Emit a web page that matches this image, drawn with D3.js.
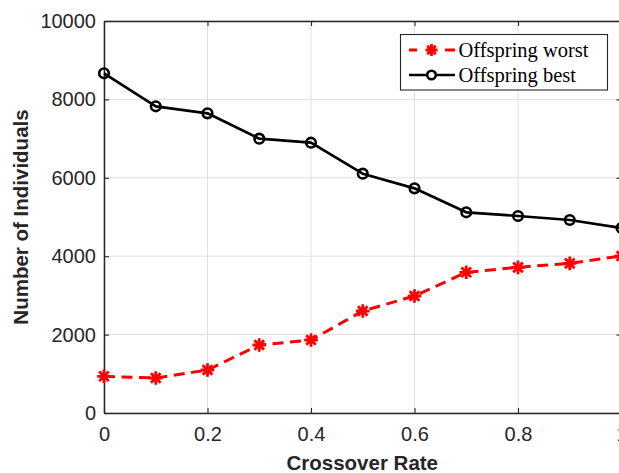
<!DOCTYPE html>
<html>
<head>
<meta charset="utf-8">
<script src="https://cdn.jsdelivr.net/npm/d3@7/dist/d3.min.js"></script>
<style>
  html, body { margin: 0; padding: 0; background: #fff; overflow: hidden; }
  svg { display: block; }
</style>
</head>
<body>
<svg id="chart" width="619" height="473"></svg>
<script>
// Crossover rate sweep
const crossoverRates = [0, 0.1, 0.2, 0.3, 0.4, 0.5, 0.6, 0.7, 0.8, 0.9, 1.0];
const offspringWorst = [936, 893, 1097, 1735, 1862, 2602, 2985, 3589, 3716, 3818, 4005];
const offspringBest  = [8666, 7824, 7645, 6998, 6895, 6105, 5731, 5120, 5026, 4923, 4719];
const xTickValues = [0, 0.2, 0.4, 0.6, 0.8, 1];
const yTickValues = [0, 2000, 4000, 6000, 8000, 10000];
const seriesNames = ["Offspring worst", "Offspring best"];

const svg = d3.select("#chart");
const plot = { left: 104, right: 621.5, top: 21, bottom: 413 };

const x = d3.scaleLinear().domain([0, 1]).range([plot.left, plot.right]);
const y = d3.scaleLinear().domain([0, 10000]).range([plot.bottom, plot.top]);

const axisColor = "#262626";
const gridColor = "#dfdfdf";
const tickFont = "'Liberation Sans', Arial, Helvetica, sans-serif";

// grid
const grid = svg.append("g");
grid.selectAll("line.gx").data(xTickValues).join("line")
  .attr("x1", d => x(d)).attr("x2", d => x(d))
  .attr("y1", plot.top).attr("y2", plot.bottom)
  .attr("stroke", gridColor).attr("stroke-width", 1);
grid.selectAll("line.gy").data(yTickValues).join("line")
  .attr("x1", plot.left).attr("x2", plot.right)
  .attr("y1", d => y(d)).attr("y2", d => y(d))
  .attr("stroke", gridColor).attr("stroke-width", 1);

// axes (ticks point inward)
const tickLen = 5;
const xAxisB = d3.axisBottom(x).tickValues(xTickValues).tickSizeInner(-tickLen).tickSizeOuter(0)
  .tickPadding(14).tickFormat(d => d3.format("~g")(d));
const xAxisT = d3.axisTop(x).tickValues(xTickValues).tickSizeInner(-tickLen).tickSizeOuter(0).tickFormat("");
const yAxisL = d3.axisLeft(y).tickValues(yTickValues).tickSizeInner(-tickLen).tickSizeOuter(0)
  .tickPadding(8).tickFormat(d3.format("d"));
const yAxisR = d3.axisRight(y).tickValues(yTickValues).tickSizeInner(-tickLen).tickSizeOuter(0).tickFormat("");

function styleAxis(g) {
  g.select(".domain").attr("stroke", axisColor).attr("stroke-width", 1.5);
  g.selectAll(".tick line").attr("stroke", axisColor).attr("stroke-width", 1.1);
  g.selectAll(".tick text").attr("fill", axisColor)
    .style("font-family", tickFont).style("font-size", "20px");
}

svg.append("g").attr("transform", `translate(0,${plot.bottom})`).call(xAxisB).call(styleAxis);
svg.append("g").attr("transform", `translate(0,${plot.top})`).call(xAxisT).call(styleAxis);
svg.append("g").attr("transform", `translate(${plot.left},0)`).call(yAxisL).call(styleAxis);
svg.append("g").attr("transform", `translate(${plot.right},0)`).call(yAxisR).call(styleAxis);

// axis titles
svg.append("text")
  .attr("x", (plot.left + plot.right) / 2 - 0.5).attr("y", 470)
  .attr("text-anchor", "middle")
  .attr("fill", axisColor)
  .style("font-family", tickFont).style("font-size", "20.5px").style("font-weight", "bold")
  .text("Crossover Rate");
svg.append("text")
  .attr("transform", `translate(28,${(plot.top + plot.bottom) / 2}) rotate(-90)`)
  .attr("text-anchor", "middle")
  .attr("fill", axisColor)
  .style("font-family", tickFont).style("font-size", "20.5px").style("font-weight", "bold")
  .text("Number of Individuals");

// asterisk marker: + and x overlaid
function starPath(r) {
  let p = "";
  for (let k = 0; k < 4; k++) {
    const a = k * Math.PI / 4;
    const dx = r * Math.cos(a), dy = r * Math.sin(a);
    p += `M${-dx},${-dy}L${dx},${dy}`;
  }
  return p;
}

const line = d3.line().x(d => x(d[0])).y(d => y(d[1]));
const worstPts = crossoverRates.map((r, i) => [r, offspringWorst[i]]);
const bestPts = crossoverRates.map((r, i) => [r, offspringBest[i]]);

// best series
svg.append("path").datum(bestPts)
  .attr("d", line).attr("fill", "none")
  .attr("stroke", "#000").attr("stroke-width", 2.7).attr("stroke-linejoin", "round");
svg.append("g").selectAll("circle").data(bestPts).join("circle")
  .attr("cx", d => x(d[0])).attr("cy", d => y(d[1])).attr("r", 4.8)
  .attr("fill", "none").attr("stroke", "#000").attr("stroke-width", 2.6);

// worst series
svg.append("path").datum(worstPts)
  .attr("d", line).attr("fill", "none")
  .attr("stroke", "#ff0000").attr("stroke-width", 3)
  .attr("stroke-dasharray", "11,6.5");
svg.append("g").selectAll("path").data(worstPts).join("path")
  .attr("transform", d => `translate(${x(d[0])},${y(d[1])})`)
  .attr("d", starPath(6.8))
  .attr("fill", "none").attr("stroke", "#ff0000").attr("stroke-width", 2.8);

// legend
const legend = svg.append("g");
legend.append("rect")
  .attr("x", 400.5).attr("y", 34.5).attr("width", 207).attr("height", 55.5)
  .attr("fill", "#fff").attr("stroke", axisColor).attr("stroke-width", 1.1);
const legendRows = [
  { name: seriesNames[0], color: "#ff0000", dash: true, marker: "star", y: 50 },
  { name: seriesNames[1], color: "#000", dash: false, marker: "circle", y: 75 }
];
legendRows.forEach(row => {
  const g = legend.append("g");
  const l = g.append("line").attr("x1", 409).attr("x2", 455).attr("y1", row.y).attr("y2", row.y)
    .attr("stroke", row.color).attr("stroke-width", row.marker === "star" ? 3 : 2.7);
  if (row.dash) l.attr("stroke-dasharray", "8,28,10");
  if (row.marker === "star") {
    g.append("path").attr("transform", `translate(431.5,${row.y})`).attr("d", starPath(6))
      .attr("fill", "none").attr("stroke", row.color).attr("stroke-width", 2.8);
  } else {
    g.append("circle").attr("cx", 431.5).attr("cy", row.y).attr("r", 4.3)
      .attr("fill", "#fff").attr("stroke", row.color).attr("stroke-width", 2.5);
  }
  g.append("text").attr("x", 458.5).attr("y", row.y + 7)
    .attr("fill", "#000")
    .style("font-family", "'Liberation Serif', 'Times New Roman', serif").style("font-size", "20.5px")
    .text(row.name);
});
</script>
</body>
</html>
